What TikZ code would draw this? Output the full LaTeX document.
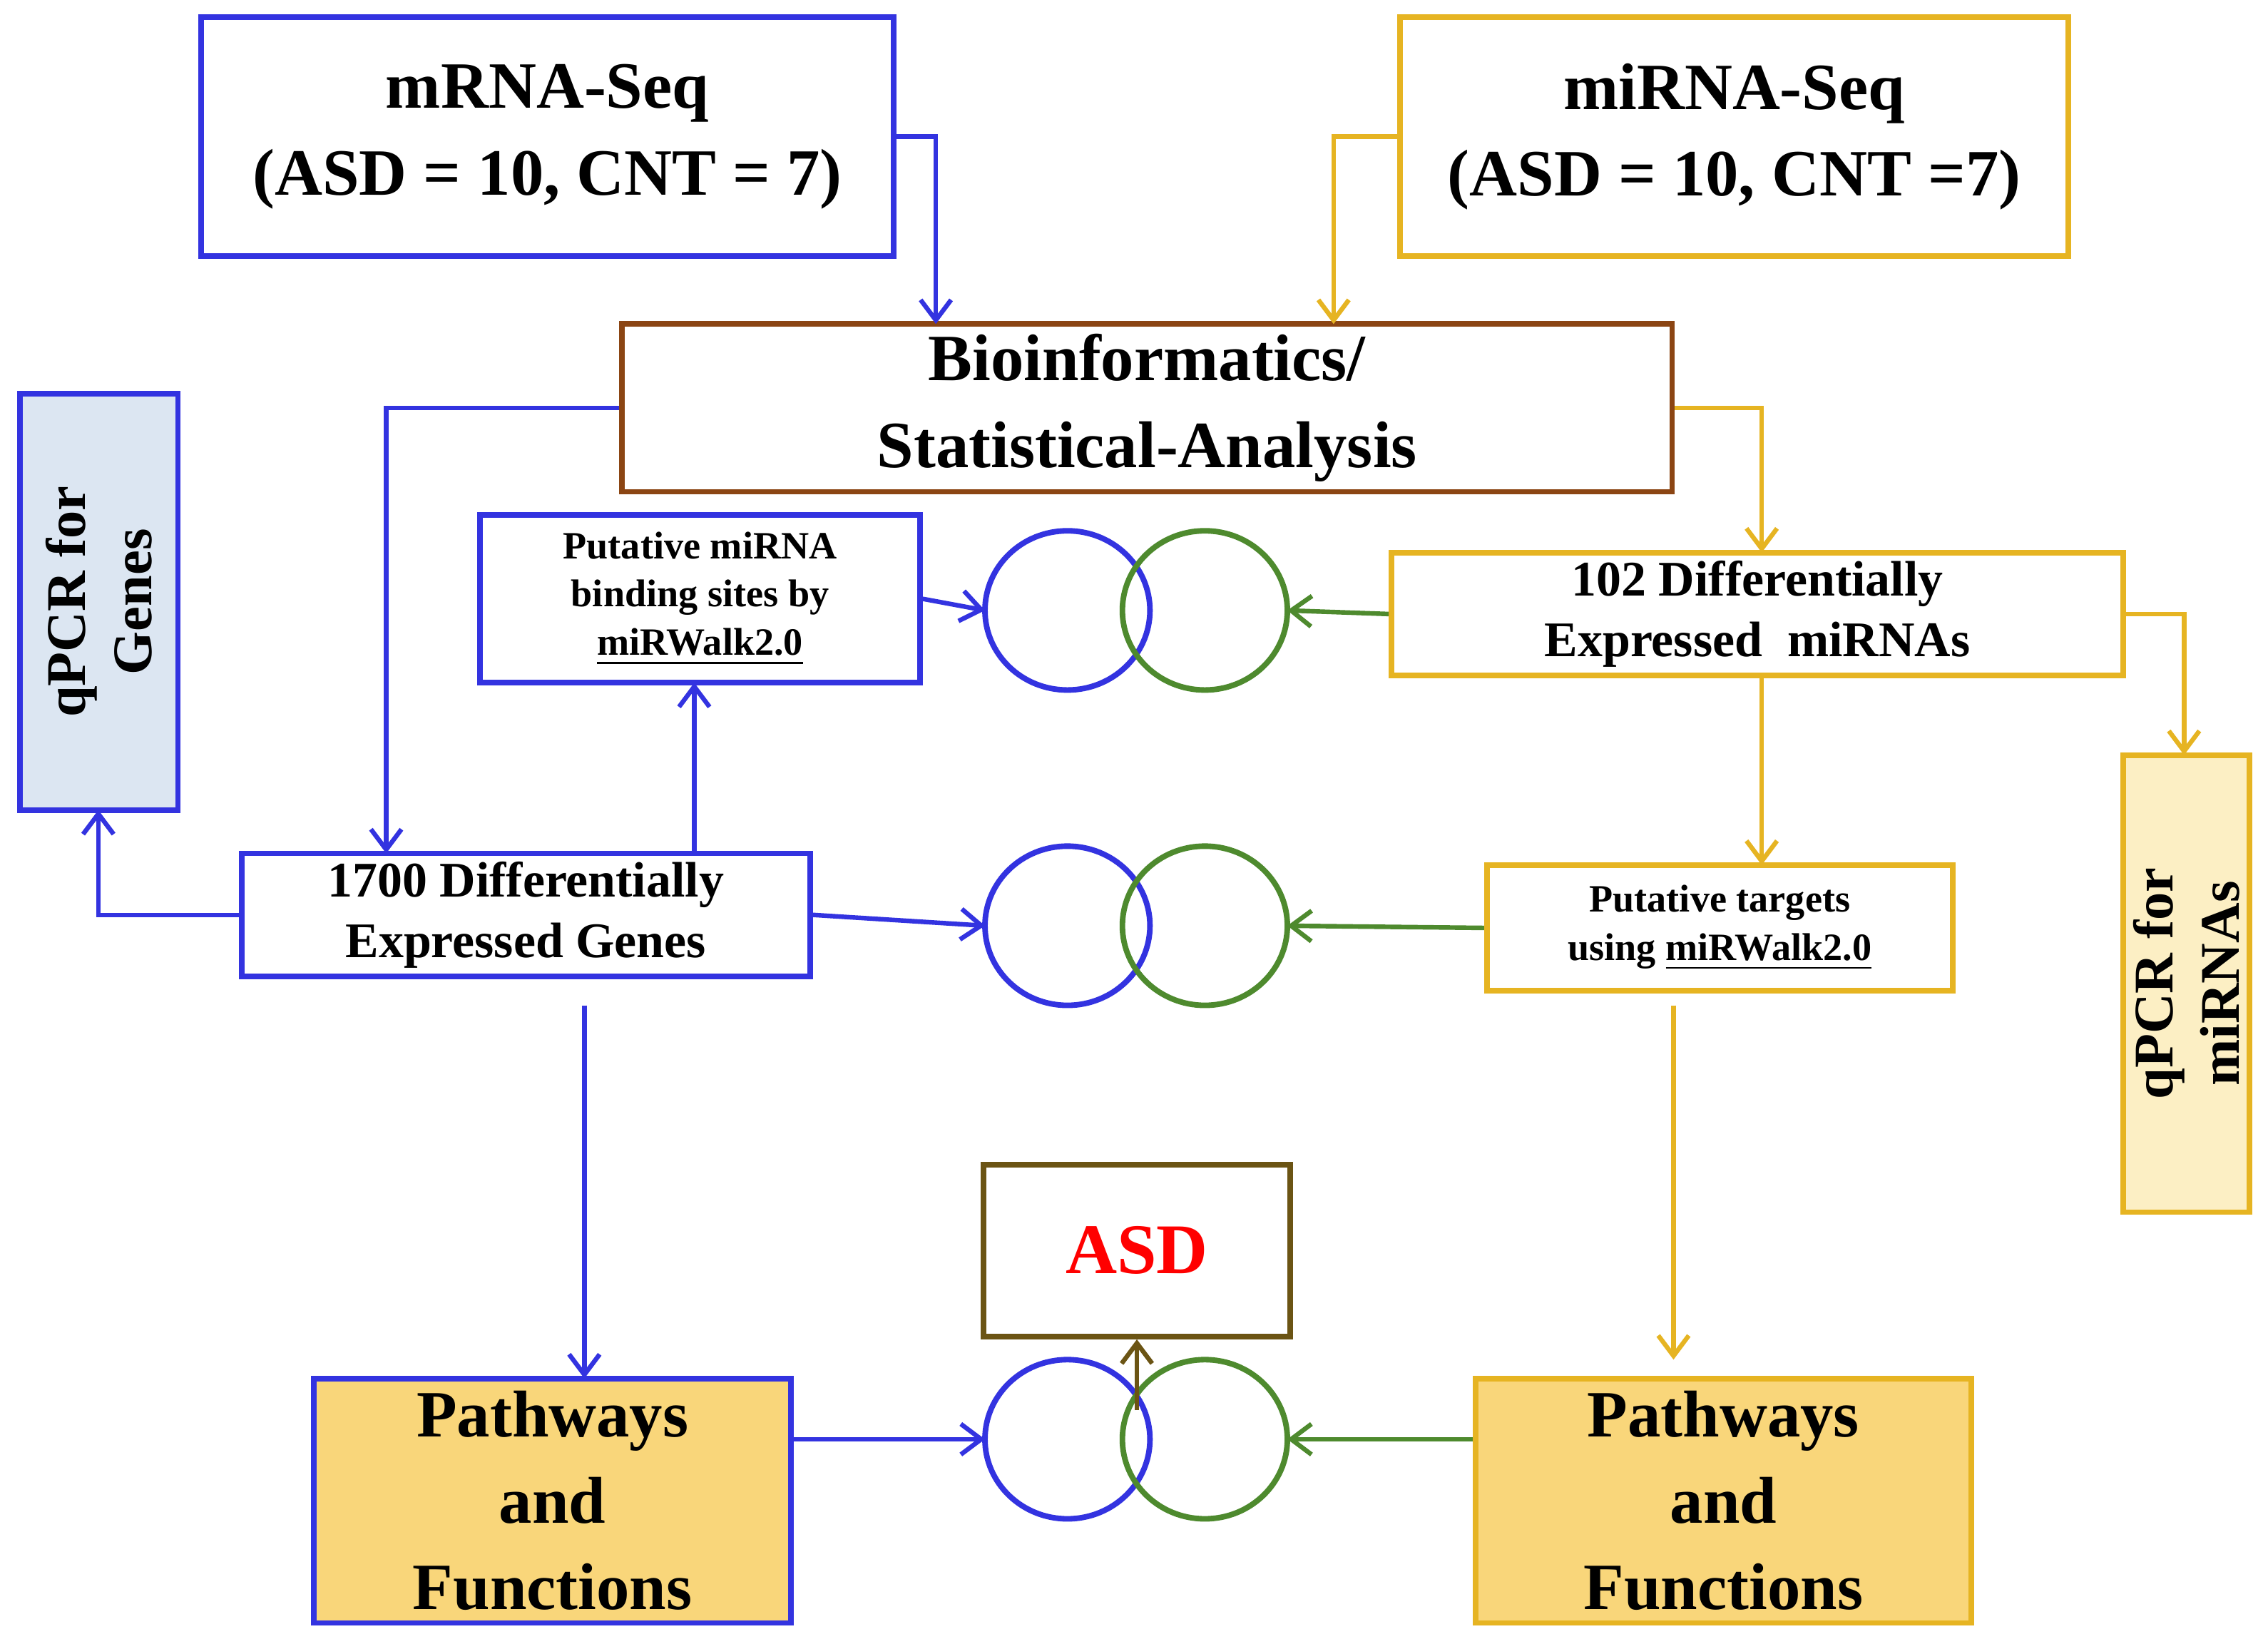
\documentclass[tikz,border=0pt]{standalone}
\usepackage{fontspec}
\setmainfont{Liberation Serif}
\usetikzlibrary{arrows.meta}
\definecolor{cb}{HTML}{3333E0}
\definecolor{cy}{HTML}{E6B422}
\definecolor{cg}{HTML}{4E8A2E}
\definecolor{cbr}{HTML}{8B4513}
\definecolor{col}{HTML}{6B5414}
\definecolor{fb}{HTML}{DCE6F2}
\definecolor{fy}{HTML}{FCEFC4}
\definecolor{fp}{HTML}{F9D67A}
\begin{document}
\begin{tikzpicture}[x=0.01cm,y=-0.01cm,
 box/.style={draw,line width=1.1pt,align=center,inner sep=0pt,font=\bfseries},
 bx/.style args={#1/#2}{box,minimum width=#1*0.01cm,minimum height=#2*0.01cm},
 big/.style={font=\bfseries\fontsize{13}{17}\selectfont},
 mid/.style={font=\bfseries\fontsize{9.8}{12}\selectfont},
 sml/.style={font=\bfseries\fontsize{7.6}{9.5}\selectfont},
 arr/.style={-{Straight Barb[length=4pt,width=6pt]},line width=0.9pt},
 ven/.style={line width=1.1pt,x radius=0.57cm,y radius=0.55cm}]
\useasboundingbox (0,0) rectangle (1568,1140);
\node[bx=479/165,draw=cb,big] (mrna) at (378.5,94.5) {mRNA-Seq\\(ASD = 10, CNT = 7)};
\node[bx=462/165,draw=cy,big] (mirna) at (1199,94.5) {miRNA-Seq\\(ASD = 10, CNT =7)};
\node[bx=726/116,draw=cbr,big] (bio) at (793,282) {Bioinformatics/\\Statistical-Analysis};
\node[bx=109/288,draw=cb,fill=fb] (qg) at (68.5,416) {};
\node[rotate=90,align=center,font=\bfseries\fontsize{11}{13}\selectfont] at (qg) {qPCR for\\Genes};
\node[bx=304/116,draw=cb,sml] (pb) at (484,414) {Putative miRNA\\binding sites by\\\underline{miRWalk2.0}};
\node[bx=506/85,draw=cy,mid] (de) at (1215,424.5) {102 Differentially\\Expressed\ \ miRNAs};
\node[bx=87/316,draw=cy,fill=fy] (qm) at (1511.5,680) {};
\node[rotate=90,align=center,font=\bfseries\fontsize{11}{13}\selectfont] at (qm) {qPCR for\\miRNAs};
\node[bx=393/85,draw=cb,mid] (dg) at (363.5,632.5) {1700 Differentially\\Expressed Genes};
\node[bx=322/87,draw=cy,sml] (pt) at (1189,641.5) {Putative targets\\using \underline{miRWalk2.0}};
\node[bx=212/119,draw=col,text=red,font=\bfseries\fontsize{14}{17}\selectfont] (asd) at (786,864.5) {ASD};
\node[bx=330/169,draw=cb,fill=fp,big] (pl) at (382,1037.5) {Pathways\\and\\Functions};
\node[bx=343/169,draw=cy,fill=fp,big] (pr) at (1191.5,1037.5) {Pathways\\and\\Functions};
% venns
\foreach \y/\n in {422/a,640/b,995/c}{
 \draw[cb,ven] (738,\y) ellipse [];
 \draw[cg,ven] (833,\y) ellipse [];
 \coordinate (bl\n) at (681,\y);
 \coordinate (gr\n) at (890,\y);}
\coordinate (c1) at (647,224); \coordinate (c2) at (922,224);
\coordinate (c3) at (267,590); \coordinate (c4) at (1218,382);
\coordinate (c5) at (1510,522); \coordinate (c6) at (68,560);
\coordinate (c7) at (480,472); \coordinate (c8) at (404,953);
\coordinate (c9) at (1157,940); \coordinate (c10) at (786,975);
\coordinate (c11) at (1218,598); \coordinate (c12) at (1157,685);
\coordinate (c13) at (404,675);
\draw[arr,cb] (mrna.east) -| (c1);
\draw[arr,cy] (mirna.west) -| (c2);
\draw[arr,cb] (bio.west) -| (c3);
\draw[arr,cy] (bio.east) -| (c4);
\draw[arr,cy] (de.east) -| (c5);
\draw[arr,cy] (de.south -| c11) -- (c11);
\draw[arr,cb] (dg.west) -| (c6);
\draw[arr,cb] (dg.north -| c7) -- (c7);
\draw[arr,cb] (pb.east) -- (bla);
\draw[arr,cg] (de.west) -- (gra);
\draw[arr,cb] (dg.east) -- (blb);
\draw[arr,cg] (pt.west) -- (grb);
\draw[arr,cb] ([yshift=-0.2cm]c13) -- (c8);
\draw[arr,cy] ([yshift=-0.1cm]c12) -- (c9);
\draw[arr,cb] (pl.east |- blc) -- (blc);
\draw[arr,cg] (pr.west |- grc) -- (grc);
\draw[arr,col] (c10) -- (asd.south);
\end{tikzpicture}
\end{document}
